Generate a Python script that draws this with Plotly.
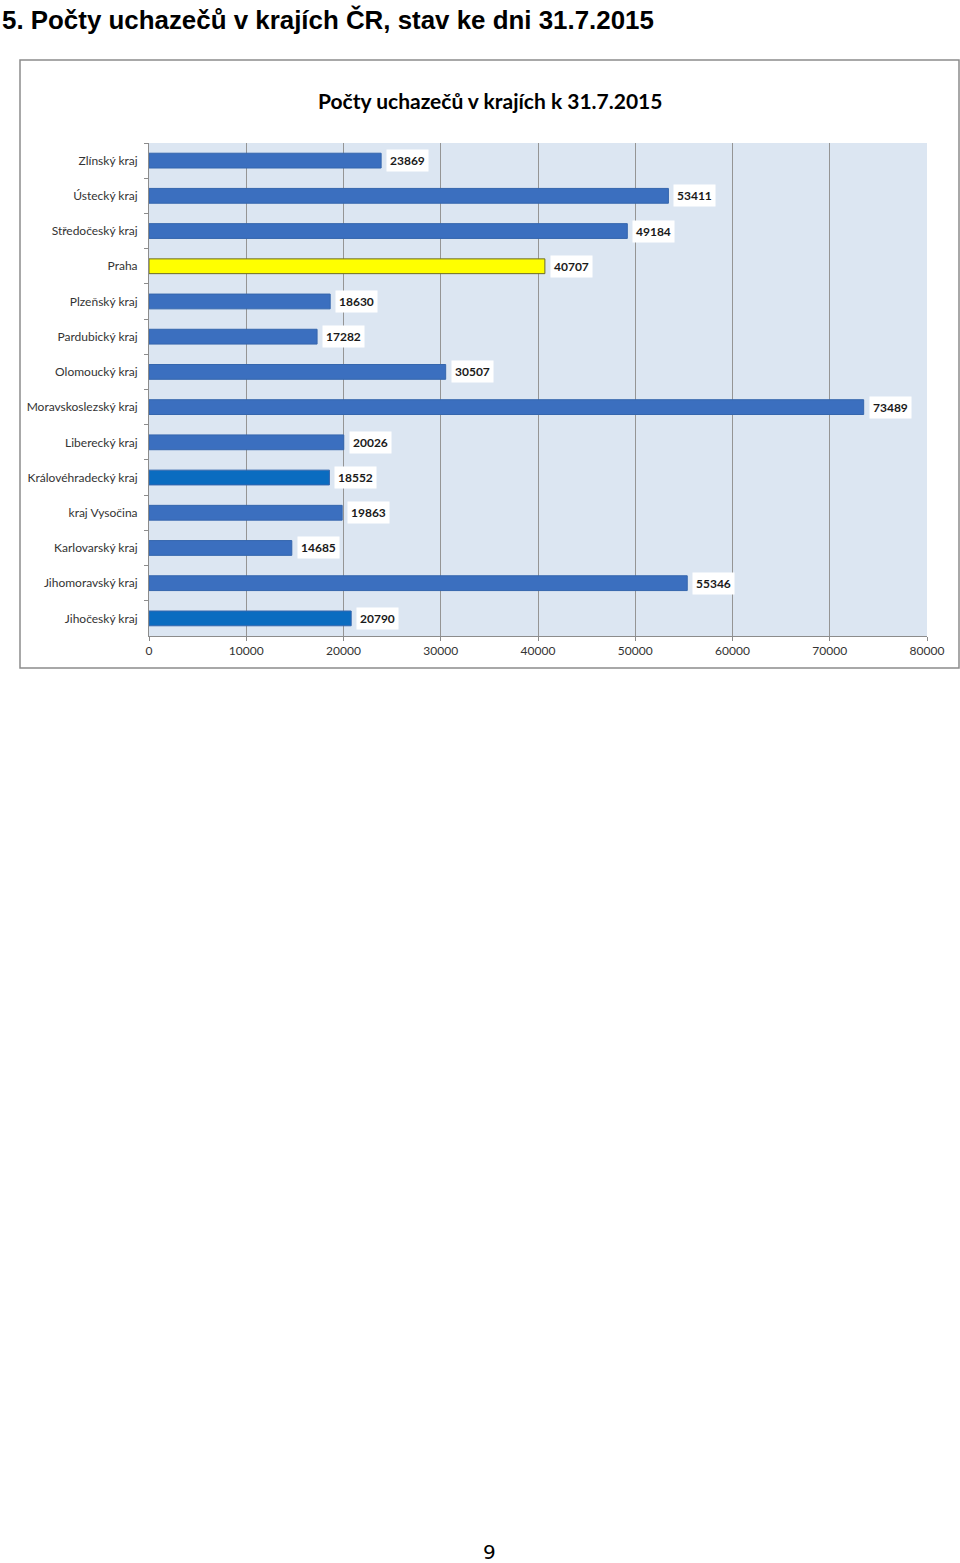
import plotly.graph_objects as go

regions = ["Zlínský kraj", "Ústecký kraj", "Středočeský kraj", "Praha", "Plzeňský kraj",
           "Pardubický kraj", "Olomoucký kraj", "Moravskoslezský kraj", "Liberecký kraj",
           "Královéhradecký kraj", "kraj Vysočina", "Karlovarský kraj", "Jihomoravský kraj",
           "Jihočeský kraj"]
counts = [23869, 53411, 49184, 40707, 18630, 17282, 30507, 73489, 20026, 18552, 19863, 14685, 55346, 20790]
bar_colors = ["#3b6fbf", "#3b6fbf", "#3b6fbf", "#ffff00", "#3b6fbf", "#3b6fbf", "#3b6fbf",
              "#3b6fbf", "#3b6fbf", "#0a6cc0", "#3b6fbf", "#3b6fbf", "#3b6fbf", "#0a6cc0"]
line_colors = ["#3566ad" if c != "#ffff00" else "#6b6b2a" for c in bar_colors]
x_ticks = [0, 10000, 20000, 30000, 40000, 50000, 60000, 70000, 80000]

W, H = 960, 1563
def px(x): return x / W
def py(y): return 1 - y / H

fig = go.Figure()
fig.add_trace(go.Bar(
    x=counts, y=regions, orientation="h", width=0.42,
    marker=dict(color=bar_colors, line=dict(color=line_colors, width=1)),
    hoverinfo="x+y", showlegend=False,
))

for r, v in zip(regions, counts):
    fig.add_annotation(x=v, y=r, xref="x", yref="y", text=f"<b>{v}</b>",
                       showarrow=False, xanchor="left", xshift=5,
                       bgcolor="white", borderpad=3,
                       font=dict(family="Lato", size=12, color="#1a1a1a"))

fig.add_shape(type="rect", xref="paper", yref="paper",
              x0=px(20), x1=px(959), y0=py(668), y1=py(60),
              line=dict(color="#8c8c8c", width=1.5), layer="below")

fig.add_annotation(x=0, y=py(19), xref="paper", yref="paper", xanchor="left", yanchor="middle",
                   text="<b>5. Počty uchazečů v krajích ČR, stav ke dni 31.7.2015</b>",
                   showarrow=False, font=dict(family="Liberation Sans", size=25.9, color="black"))
fig.add_annotation(x=px(490), y=py(100), xref="paper", yref="paper", xanchor="center", yanchor="middle",
                   text="<b>Počty uchazečů v krajích k 31.7.2015</b>",
                   showarrow=False, font=dict(family="Lato", size=21, color="black"))
fig.add_annotation(x=px(490), y=py(1552), xref="paper", yref="paper", xanchor="center", yanchor="middle",
                   text="9", showarrow=False, font=dict(family="DejaVu Sans", size=20, color="black"))

fig.update_layout(
    width=W, height=H, autosize=False, margin=dict(l=0, r=0, t=0, b=0, pad=0),
    paper_bgcolor="white", plot_bgcolor="#dce6f2",
    xaxis=dict(domain=[px(149), px(927)], range=[0, 80000], tickvals=x_ticks,
               ticktext=[str(t) for t in x_ticks], showgrid=True, gridcolor="#959595",
               gridwidth=1, zeroline=False, showline=True, linecolor="#8c8c8c",
               ticks="outside", ticklen=4, tickcolor="#8c8c8c", automargin=False,
               tickfont=dict(family="Lato", size=12, color="#333333"), fixedrange=True),
    yaxis=dict(domain=[py(636), py(143)], autorange="reversed", type="category",
               showline=True, linecolor="#8c8c8c", ticks="outside", ticklen=4,
               tickcolor="#8c8c8c", tickson="boundaries", showgrid=False,
               ticklabelstandoff=8, automargin=False,
               tickfont=dict(family="Lato", size=12, color="#333333"), fixedrange=True),
)

fig.write_html("out.html")
